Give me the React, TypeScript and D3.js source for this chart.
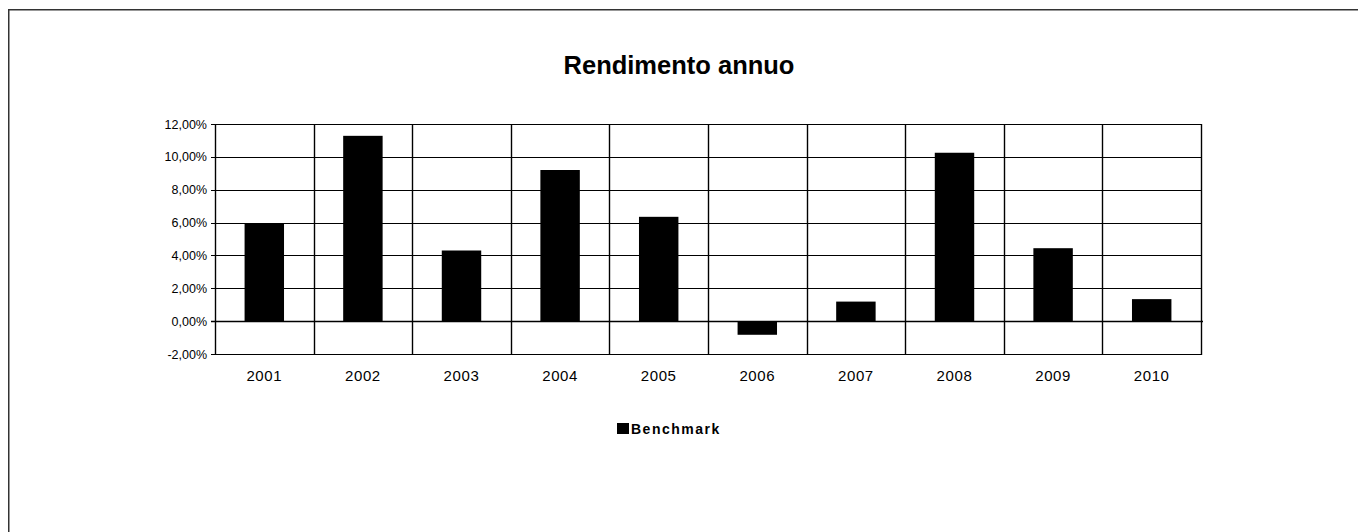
import React from "react";
import * as d3 from "d3";

const years = ["2001", "2002", "2003", "2004", "2005", "2006", "2007", "2008", "2009", "2010"];
const benchmark = [5.95, 11.28, 4.3, 9.2, 6.35, -0.83, 1.19, 10.25, 4.44, 1.34];
const yTicks = [-2, 0, 2, 4, 6, 8, 10, 12];
const title = "Rendimento annuo";
const seriesName = "Benchmark";

const W = 1358;
const H = 532;
const plot = { left: 215, right: 1201, top: 124, bottom: 354 };

export default function App() {
  const x = d3.scaleBand<string>().domain(years).range([plot.left, plot.right]).padding(0);
  const y = d3.scaleLinear().domain([-2, 12]).range([plot.bottom, plot.top]);
  const bw = x.bandwidth() * 0.4;
  const fmt = (v: number) => v.toFixed(2).replace(".", ",") + "%";
  const font = "Arial, 'Liberation Sans', sans-serif";

  return (
    <svg
      width={W}
      height={H}
      style={{ position: "absolute", left: 0, top: 0, display: "block", background: "#fff" }}
    >
      <rect x={0} y={0} width={W} height={H} fill="#fff" />
      {/* outer frame */}
      <rect x={8.75} y={9.75} width={W + 20} height={H + 20} fill="none" stroke="#333" strokeWidth={1.5} />

      {/* title */}
      <text x={679} y={73.5} textAnchor="middle" fontFamily={font} fontWeight="bold" fontSize={25.5} fill="#000">
        {title}
      </text>

      {/* horizontal gridlines */}
      {yTicks.map((t) => (
        <line key={"g" + t} x1={plot.left - 4} x2={plot.right} y1={Math.round(y(t)) + 0.5} y2={Math.round(y(t)) + 0.5} stroke="#000" strokeWidth={1.1} />
      ))}
      {/* vertical category gridlines */}
      {years.map((c) => (
        <line key={"v" + c} x1={Math.round(x(c)!) + 0.5} x2={Math.round(x(c)!) + 0.5} y1={plot.top} y2={plot.bottom + 1} stroke="#000" strokeWidth={1.4} />
      ))}
      <line x1={plot.right + 0.5} x2={plot.right + 0.5} y1={plot.top} y2={plot.bottom + 1} stroke="#000" strokeWidth={1.4} />

      {/* bars */}
      {benchmark.map((v, i) => {
        const c = years[i];
        const cx = x(c)! + x.bandwidth() / 2;
        const y0 = y(0);
        const y1 = y(v);
        return (
          <rect key={"b" + c} x={cx - bw / 2} y={Math.min(y0, y1)} width={bw} height={Math.abs(y1 - y0)} fill="#000" />
        );
      })}

      {/* zero line on top */}
      <line x1={plot.left - 4} x2={plot.right + 2} y1={Math.round(y(0)) + 0.5} y2={Math.round(y(0)) + 0.5} stroke="#000" strokeWidth={1.4} />

      {/* y tick labels */}
      {yTicks.map((t) => (
        <text key={"yl" + t} x={207} y={y(t) + 4.5} textAnchor="end" fontFamily={font} fontSize={12.5} fill="#000">
          {fmt(t)}
        </text>
      ))}

      {/* x labels */}
      {years.map((c) => (
        <text key={"xl" + c} x={x(c)! + x.bandwidth() / 2} y={381} textAnchor="middle" fontFamily={font} fontSize={15} letterSpacing={0.6} fill="#000">
          {c}
        </text>
      ))}

      {/* legend */}
      <rect x={617} y={423} width={12} height={11} fill="#000" />
      <text x={631} y={434} fontFamily={font} fontWeight="bold" fontSize={14} letterSpacing={1.5} fill="#000">
        {seriesName}
      </text>
    </svg>
  );
}
